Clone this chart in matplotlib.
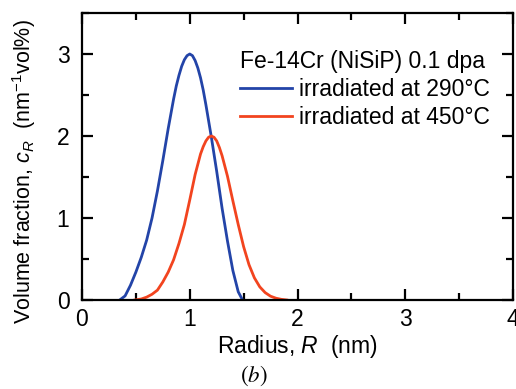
import matplotlib
matplotlib.use("Agg")
import matplotlib.pyplot as plt
from matplotlib.ticker import MultipleLocator

plt.rcParams['font.family'] = ['Liberation Sans', 'DejaVu Sans']
plt.rcParams['mathtext.fontset'] = 'custom'
plt.rcParams['mathtext.it'] = 'Liberation Sans:italic'
plt.rcParams['mathtext.rm'] = 'Liberation Sans'

# Radius (nm) and volume fraction (nm^-1 vol%)
r_290 = [0.35, 0.40, 0.45, 0.50, 0.55, 0.60, 0.65, 0.70, 0.75, 0.80, 0.85, 0.875, 0.90,
         0.925, 0.95, 0.975, 1.00, 1.025, 1.05, 1.075, 1.10, 1.125, 1.15, 1.20, 1.25,
         1.30, 1.35, 1.40, 1.45, 1.49]
c_290 = [0.00, 0.05, 0.18, 0.34, 0.52, 0.73, 1.00, 1.33, 1.70, 2.09, 2.45, 2.61, 2.74,
         2.85, 2.93, 2.98, 3.00, 2.98, 2.92, 2.83, 2.71, 2.56, 2.38, 1.99, 1.57,
         1.12, 0.72, 0.36, 0.10, 0.00]

r_450 = [0.49, 0.55, 0.60, 0.65, 0.70, 0.75, 0.80, 0.85, 0.90, 0.95, 1.00, 1.05, 1.10,
         1.125, 1.15, 1.175, 1.20, 1.225, 1.25, 1.275, 1.30, 1.35, 1.40, 1.45, 1.50,
         1.55, 1.60, 1.65, 1.70, 1.75, 1.80, 1.85, 1.90]
c_450 = [0.00, 0.012, 0.035, 0.07, 0.12, 0.22, 0.34, 0.49, 0.69, 0.92, 1.22, 1.53, 1.78,
         1.87, 1.94, 1.985, 2.00, 1.985, 1.94, 1.86, 1.76, 1.51, 1.21, 0.92, 0.65,
         0.43, 0.27, 0.16, 0.09, 0.046, 0.022, 0.008, 0.00]

labels = ['irradiated at 290°C', 'irradiated at 450°C']
colors = ['#2344a8', '#f2441f']
legend_title = 'Fe-14Cr (NiSiP) 0.1 dpa'
x_ticks = [0, 1, 2, 3, 4]
y_ticks = [0, 1, 2, 3]

FS = 16.5

fig = plt.figure(figsize=(5.16, 3.89), dpi=100)
ax = fig.add_axes([82/516, 1-300/389, (513-82)/516, (300-13)/389])

ax.plot(r_290, c_290, color=colors[0], lw=2.0, label=labels[0])
ax.plot(r_450, c_450, color=colors[1], lw=2.0, label=labels[1])

ax.set_xlim(0, 4)
ax.set_ylim(0, 3.5)
ax.set_xticks(x_ticks)
ax.set_yticks(y_ticks)
ax.xaxis.set_minor_locator(MultipleLocator(0.5))
ax.yaxis.set_minor_locator(MultipleLocator(0.5))
ax.tick_params(which='both', direction='in', top=True, right=True, labelsize=FS, width=1.6)
ax.tick_params(which='major', length=8)
ax.tick_params(axis='x', which='major', pad=6)
ax.tick_params(axis='y', which='major', pad=9)
ax.tick_params(which='minor', length=5)
for s in ax.spines.values():
    s.set_linewidth(1.6)

ax.set_xlabel(r'Radius, $R$  (nm)', fontsize=FS, labelpad=1)
ax.set_ylabel(r'Volume fraction, $c_R$  (nm$^{-1}$vol%)', fontsize=15.5)
ax.yaxis.set_label_coords((38-82)/431, (300-172)/287)

leg = ax.legend(title=legend_title, frameon=False, loc='upper right',
                bbox_to_anchor=((490-82)/431, (300-50)/287), fontsize=FS, title_fontsize=FS,
                handlelength=2.3, handletextpad=0.3, labelspacing=0.22,
                borderaxespad=0.0, borderpad=0.0)
leg._legend_box.align = 'left'

fig.text(254/516, 1-376/389, r'$(b)$', fontsize=16.5, ha='center', va='center',
         math_fontfamily='stix')

fig.savefig('out.png', dpi=100)
